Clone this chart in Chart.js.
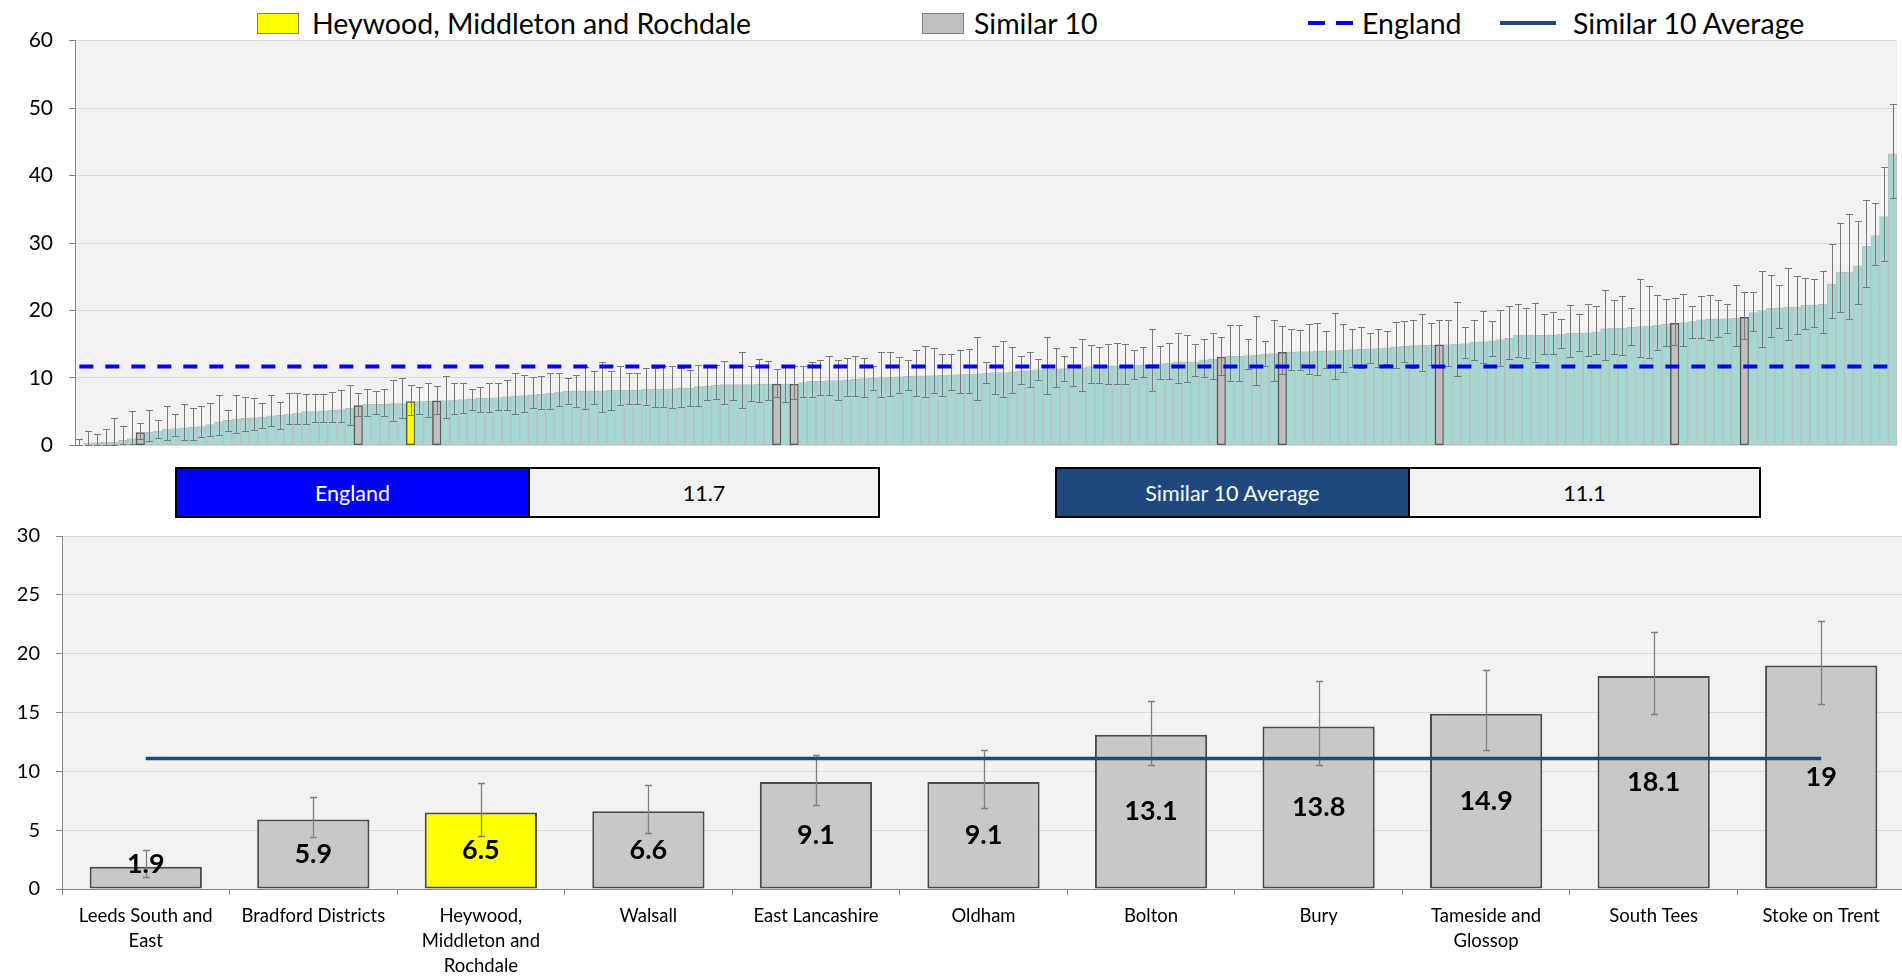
<!DOCTYPE html>
<html>
<head>
<meta charset="utf-8">
<script src="https://cdn.jsdelivr.net/npm/chart.js@4.4.1/dist/chart.umd.min.js"></script>
<style>
html,body{margin:0;padding:0;background:#fff;}
body{width:1902px;height:976px;overflow:hidden;position:relative;font-family:Lato,sans-serif;color:#000;}
canvas{position:absolute;left:0;}
#topChart{top:12px;}
#bottomChart{top:508px;}
.sw{position:absolute;top:13px;width:42px;height:21px;box-sizing:border-box;border:1.5px solid #7f7f7f;}
.ln{position:absolute;top:21px;height:4px;}
.lt{position:absolute;top:4px;line-height:38px;font-size:28.5px;white-space:nowrap;}
.box{position:absolute;top:467px;height:51px;box-sizing:border-box;border:2.5px solid #000;display:flex;}
.box div{height:100%;display:flex;align-items:center;justify-content:center;font-size:21.5px;}
.box .k{color:#fff;border-right:2.5px solid #000;box-sizing:border-box;}
.box .v{background:#f2f2f2;flex:1;}
</style>
</head>
<body>
<div class="sw" style="left:257px;background:#ffff00;"></div>
<div class="lt" style="left:312px;" id="lg1"></div>
<div class="sw" style="left:922px;background:#bfbfbf;"></div>
<div class="lt" style="left:974px;" id="lg2"></div>
<div class="ln" style="left:1308px;width:17px;background:#0000ff;"></div>
<div class="ln" style="left:1336px;width:17px;background:#0000ff;"></div>
<div class="lt" style="left:1362px;" id="lg3"></div>
<div class="ln" style="left:1500px;width:56px;background:#1f497d;"></div>
<div class="lt" style="left:1573px;" id="lg4"></div>

<canvas id="topChart" width="1902" height="462"></canvas>

<div class="box" style="left:175px;width:705px;">
  <div class="k" style="width:353px;background:#0000ff;" id="engKey"></div>
  <div class="v" id="engVal"></div>
</div>
<div class="box" style="left:1055px;width:706px;">
  <div class="k" style="width:353px;background:#1f497d;" id="simKey"></div>
  <div class="v" id="simVal"></div>
</div>

<canvas id="bottomChart" width="1906" height="468"></canvas>

<script>
// ---------------- DATA ----------------
const legendLabels = ['Heywood, Middleton and Rochdale', 'Similar 10', 'England', 'Similar 10 Average'];
const englandValue = 11.7;
const similarAvg = 11.1;

// Top chart: all CCGs, sorted ascending (rate per bar, with confidence limits)
const topValues = [
  0, 0.35, 0.4, 0.45, 0.5, 0.75, 1.0, 1.9, 1.95, 2.1,
  2.4, 2.5, 2.6, 2.7, 2.8, 3.1, 3.5, 3.7, 3.9, 4.0,
  4.1, 4.2, 4.4, 4.5, 4.6, 4.8, 5.0, 5.0, 5.1, 5.2,
  5.3, 5.5, 5.9, 6.1, 6.1, 6.1, 6.2, 6.2, 6.5, 6.5,
  6.55, 6.6, 6.65, 6.7, 6.8, 6.9, 7.0, 7.0, 7.1, 7.2,
  7.3, 7.4, 7.5, 7.6, 7.7, 7.9, 8.0, 8.1, 8.1, 8.1,
  8.1, 8.2, 8.2, 8.2, 8.2, 8.3, 8.3, 8.3, 8.4, 8.5,
  8.5, 8.7, 8.8, 8.9, 9.0, 9.0, 9.0, 9.0, 9.1, 9.1,
  9.1, 9.1, 9.1, 9.3, 9.5, 9.5, 9.6, 9.6, 9.7, 9.8,
  9.9, 9.95, 10.05, 10.1, 10.15, 10.25, 10.3, 10.3, 10.35, 10.4,
  10.45, 10.5, 10.55, 10.6, 10.7,
  10.8, 10.8, 10.9, 11.0, 11.1, 11.2, 11.3, 11.3, 11.4, 11.4,
  11.5, 11.7, 11.8, 11.8, 11.8, 11.8, 11.9, 11.9, 12.0, 12.1,
  12.2, 12.4, 12.4, 12.4, 12.7, 12.8, 13.1, 13.2, 13.2, 13.3,
  13.4, 13.5, 13.6, 13.8, 13.85, 13.9, 13.9, 13.95, 14.0, 14.05,
  14.1, 14.2, 14.25, 14.3, 14.35, 14.45, 14.6, 14.7, 14.8, 14.85,
  14.85, 14.9, 14.95, 15.0, 15.1, 15.3, 15.4, 15.5, 15.7, 15.9,
  16.3, 16.3, 16.3, 16.3, 16.4, 16.5, 16.6, 16.65, 16.7, 16.8,
  17.3, 17.4, 17.4, 17.5, 17.6, 17.7, 17.85, 17.95, 18.1, 18.2,
  18.35, 18.6, 18.7, 18.75, 18.8, 18.85, 19.0, 19.7, 20.0, 20.3,
  20.4, 20.5, 20.5, 20.8, 20.8, 20.9, 23.9, 25.7, 25.7, 26.6,
  29.5, 31.1, 33.9, 43.2
];
const topUpper = [
  1.0, 2.2, 1.7, 2.4, 4.1, 2.9, 5.1, 3.3, 5.3, 3.8,
  5.9, 4.6, 6.2, 5.6, 5.8, 6.3, 7.4, 5.3, 7.4, 7.1,
  7.0, 6.3, 7.5, 6.4, 7.8, 7.7, 7.6, 7.6, 7.6, 7.9,
  8.2, 9.0, 7.8, 8.3, 8.0, 8.3, 9.7, 10.0, 9.0, 8.6,
  9.3, 8.8, 10.3, 9.2, 9.2, 8.4, 8.6, 9.2, 9.2, 9.7,
  10.8, 10.4, 10.2, 10.3, 10.8, 10.8, 10.0, 10.5, 11.6, 11.0,
  12.4, 11.1, 11.8, 10.8, 10.7, 11.4, 11.5, 11.8, 11.7, 11.4,
  11.2, 11.9, 11.6, 11.9, 12.5, 11.8, 13.9, 11.7, 12.8, 12.5,
  11.3, 11.7, 11.8, 11.7, 12.4, 12.6, 13.2, 12.7, 12.9, 13.2,
  13.0, 11.7, 13.8, 13.8, 13.1, 12.6, 14.1, 14.7, 14.5, 13.6,
  13.5, 14.2, 14.3, 16.1, 12.4,
  14.8, 15.5, 14.6, 13.2, 13.8, 12.8, 16.1, 14.5, 13.2, 14.6,
  15.8, 14.9, 14.6, 15.1, 15.2, 15.1, 14.2, 14.6, 17.2, 14.8,
  15.2, 16.6, 16.3, 15.0, 15.8, 16.7, 16.0, 17.8, 17.8, 15.7,
  19.2, 15.5, 18.6, 17.7, 17.3, 17.1, 18.0, 18.2, 17.0, 19.6,
  18.0, 17.3, 17.6, 16.7, 17.3, 16.9, 18.3, 18.5, 18.6, 19.5,
  18.1, 18.6, 18.6, 21.2, 17.6, 18.6, 19.9, 18.4, 20.1, 20.6,
  20.9, 20.4, 21.1, 19.5, 19.8, 18.7, 20.8, 19.5, 21.0, 20.6,
  23.1, 21.6, 22.1, 20.4, 24.6, 23.7, 22.3, 21.7, 21.8, 22.4,
  20.7, 22.1, 22.3, 21.6, 21.0, 23.8, 22.8, 22.75, 25.9, 25.2,
  23.8, 26.3, 25.1, 24.8, 24.7, 25.9, 29.8, 33.0, 34.3, 33.2,
  36.4, 36.0, 41.2, 50.6
];
const topLower = [
  0.0, 0.05, 0.1, 0.1, 0.1, 0.2, 0.25, 1.0, 0.7, 1.1,
  0.75, 1.4, 0.75, 0.85, 1.2, 1.4, 1.6, 2.1, 1.8, 2.2,
  2.3, 2.6, 2.9, 2.5, 3.1, 3.2, 3.2, 3.5, 3.5, 3.5,
  3.5, 3.0, 4.4, 4.3, 4.6, 4.3, 3.6, 4.0, 4.5, 4.6,
  4.2, 4.7, 4.1, 4.7, 4.8, 5.2, 5.0, 5.0, 5.3, 5.2,
  4.6, 4.9, 5.5, 5.4, 5.4, 5.9, 6.2, 5.7, 5.4, 6.2,
  5.0, 5.3, 6.0, 6.2, 6.1, 6.0, 5.7, 5.7, 5.6, 5.7,
  5.9, 5.9, 6.7, 6.9, 6.2, 6.8, 5.5, 6.6, 6.4, 6.7,
  7.1, 6.5, 6.9, 7.2, 7.1, 7.5, 7.4, 6.7, 7.3, 7.3,
  7.2, 8.2, 7.2, 7.3, 7.8, 8.2, 7.3, 7.2, 7.8, 7.3,
  8.2, 7.7, 7.7, 6.8, 9.2,
  7.6, 7.2, 7.8, 9.1, 8.6, 9.7, 7.6, 8.7, 9.6, 8.75,
  8.0, 9.2, 9.2, 9.05, 9.05, 9.1, 9.9, 10.2, 8.1, 9.8,
  9.8, 9.2, 9.4, 10.3, 10.2, 9.8, 10.5, 9.5, 9.6, 11.3,
  9.0, 11.7, 9.6, 10.6, 11.2, 11.2, 10.6, 10.4, 11.4, 9.8,
  10.9, 11.6, 11.4, 12.2, 11.6, 12.1, 11.4, 12.4, 11.4, 11.0,
  11.9, 11.8, 11.8, 10.3, 13.0, 12.7, 12.2, 13.3, 11.8, 12.8,
  13.1, 12.9, 12.4, 13.5, 13.6, 14.4, 13.1, 14.0, 13.2, 13.6,
  12.6, 13.6, 13.4, 14.9, 13.1, 13.0, 14.1, 14.7, 14.9, 14.7,
  15.9, 15.9, 15.6, 16.1, 16.7, 14.8, 15.7, 16.9, 14.6, 16.0,
  17.4, 15.6, 16.5, 17.3, 17.5, 16.7, 18.9, 19.8, 18.8, 21.0,
  23.5, 26.7, 27.4, 36.6
];
// positions (0-based rank) of the similar-10 CCGs and of the selected CCG in the sorted list
const similarRanks = [7, 32, 41, 80, 82, 131, 138, 156, 183, 191];
const selectedRank = 38;
const topYTicks = [0, 10, 20, 30, 40, 50, 60];

// Bottom chart: selected CCG and its similar 10
const bottomCategories = [
  ['Leeds South and', 'East'], ['Bradford Districts'], ['Heywood,', 'Middleton and', 'Rochdale'],
  ['Walsall'], ['East Lancashire'], ['Oldham'], ['Bolton'], ['Bury'],
  ['Tameside and', 'Glossop'], ['South Tees'], ['Stoke on Trent']
];
const bottomValues = [1.9, 5.9, 6.5, 6.6, 9.1, 9.1, 13.1, 13.8, 14.9, 18.1, 19];
const bottomUpper = [3.3, 7.8, 9.0, 8.8, 11.35, 11.8, 16.0, 17.7, 18.6, 21.8, 22.8];
const bottomLower = [1.0, 4.4, 4.5, 4.75, 7.1, 6.9, 10.5, 10.55, 11.8, 14.9, 15.7];
const selectedCategory = 2;
const bottomYTicks = [0, 5, 10, 15, 20, 25, 30];

// ---------------- STATIC TEXT ----------------
['lg1','lg2','lg3','lg4'].forEach((id, i) => document.getElementById(id).textContent = legendLabels[i]);
document.getElementById('engKey').textContent = legendLabels[2];
document.getElementById('engVal').textContent = englandValue;
document.getElementById('simKey').textContent = legendLabels[3];
document.getElementById('simVal').textContent = similarAvg;

// ---------------- PLUGINS ----------------
const plotBg = {
  id: 'plotBg',
  beforeDraw(chart) {
    const {ctx, chartArea: a} = chart;
    ctx.save();
    ctx.fillStyle = '#f2f2f2';
    ctx.fillRect(a.left, a.top, a.right - a.left, a.bottom - a.top);
    ctx.restore();
  }
};
const errorBars = {
  id: 'errorBars',
  afterDatasetDraw(chart, args, opts) {
    const ds = chart.data.datasets[args.index];
    if (!ds.errUpper) return;
    const ctx = chart.ctx, y = chart.scales.y;
    ctx.save();
    ctx.strokeStyle = opts.color;
    ctx.lineWidth = opts.width;
    args.meta.data.forEach((el, i) => {
      const hi = ds.errUpper[i], lo = ds.errLower[i];
      if (hi == null) return;
      const x = Math.round(el.x) + 0.5;
      const yh = Math.round(y.getPixelForValue(hi)) + 0.5;
      const yl = Math.round(y.getPixelForValue(lo)) + 0.5;
      ctx.beginPath();
      ctx.moveTo(x, yh); ctx.lineTo(x, yl);
      ctx.moveTo(x - opts.cap, yh); ctx.lineTo(x + opts.cap, yh);
      ctx.moveTo(x - opts.cap, yl); ctx.lineTo(x + opts.cap, yl);
      ctx.stroke();
    });
    ctx.restore();
  }
};
const barLabels = {
  id: 'barLabels',
  afterDatasetsDraw(chart) {
    const idx = chart.data.datasets.findIndex(d => d.type === 'bar');
    const ds = chart.data.datasets[idx];
    const meta = chart.getDatasetMeta(idx);
    const ctx = chart.ctx;
    ctx.save();
    ctx.font = 'bold 27px Lato';
    ctx.fillStyle = '#000';
    ctx.textAlign = 'center';
    ctx.textBaseline = 'middle';
    meta.data.forEach((el, i) => {
      const c = (el.y + el.base) / 2;
      ctx.fillText(String(ds.data[i]), el.x, Math.min(c, el.base - 24));
    });
    ctx.restore();
  }
};

function draw() {
  Chart.defaults.font.family = 'Lato';
  Chart.defaults.color = '#000';

  // ----- top chart -----
  const topRanks = topValues.map((_, i) => i + 1);
  const topFill = topValues.map((_, i) => i === selectedRank ? '#ffff00' : (similarRanks.includes(i) ? '#bfbfbf' : '#a6d8d3'));
  const topBorder = topValues.map((_, i) => (i === selectedRank || similarRanks.includes(i)) ? '#595959' : '#bdbdbd');
  const topBorderW = topValues.map((_, i) => (i === selectedRank || similarRanks.includes(i)) ? 1.5 : 1);

  new Chart(document.getElementById('topChart'), {
    type: 'bar',
    data: {
      labels: topRanks,
      datasets: [
        { type: 'line', label: legendLabels[2], data: topRanks.map(() => englandValue),
          borderColor: '#0000ff', borderWidth: 4, borderDash: [14, 12], pointRadius: 0, fill: false, order: 0 },
        { type: 'bar', label: 'CCGs', data: topValues, errUpper: topUpper, errLower: topLower,
          backgroundColor: topFill, borderColor: topBorder, borderWidth: topBorderW, borderSkipped: false,
          categoryPercentage: 1, barPercentage: 1, order: 1 }
      ]
    },
    options: {
      responsive: false, animation: false, events: [],
      layout: { padding: { left: 0, right: 5, top: 0, bottom: 0 } },
      plugins: { legend: { display: false }, tooltip: { enabled: false },
        errorBars: { color: '#7a7a7a', width: 1, cap: 3.5 } },
      scales: {
        x: { display: false },
        y: {
          min: 0, max: 60,
          afterBuildTicks: s => { s.ticks = topYTicks.map(v => ({ value: v })); },
          afterFit: s => { s.width = 75; },
          ticks: { font: { size: 21 }, color: '#000', padding: 16 },
          grid: { color: '#d9d9d9', tickColor: '#868686', tickLength: 6 },
          border: { color: '#868686', width: 1 }
        }
      }
    },
    plugins: [plotBg, errorBars]
  });

  // ----- bottom chart -----
  new Chart(document.getElementById('bottomChart'), {
    type: 'bar',
    data: {
      labels: bottomCategories,
      datasets: [
        { type: 'line', label: legendLabels[3], data: bottomCategories.map(() => similarAvg),
          borderColor: '#1f497d', borderWidth: 3.5, pointRadius: 0, fill: false, order: 0 },
        { type: 'bar', label: legendLabels[1], data: bottomValues, errUpper: bottomUpper, errLower: bottomLower,
          backgroundColor: bottomValues.map((_, i) => i === selectedCategory ? '#ffff00' : '#c8c8c8'),
          borderColor: '#4a4a4a', borderWidth: 2, borderSkipped: false,
          categoryPercentage: 1, barPercentage: 0.67, order: 1 }
      ]
    },
    options: {
      responsive: false, animation: false, events: [],
      layout: { padding: { left: 0, right: 1, top: 0, bottom: 0 } },
      plugins: { legend: { display: false }, tooltip: { enabled: false },
        errorBars: { color: '#7f7f7f', width: 1.3, cap: 3.5 } },
      scales: {
        x: {
          afterFit: s => { s.height = 87; },
          ticks: { font: { size: 18.5, lineHeight: 1.35 }, color: '#000', padding: 8.5, maxRotation: 0, autoSkip: false },
          grid: { drawOnChartArea: false, tickColor: '#868686', tickLength: 6, offset: true },
          border: { color: '#868686', width: 1 }
        },
        y: {
          min: 0, max: 30,
          afterBuildTicks: s => { s.ticks = bottomYTicks.map(v => ({ value: v })); },
          afterFit: s => { s.width = 62; },
          ticks: { font: { size: 20 }, color: '#000', padding: 16 },
          grid: { color: '#d9d9d9', tickColor: '#868686', tickLength: 6 },
          border: { color: '#868686', width: 1 }
        }
      }
    },
    plugins: [plotBg, errorBars, barLabels]
  });
}

if (document.fonts && document.fonts.load) {
  Promise.all([document.fonts.load('21px Lato'), document.fonts.load('bold 27px Lato')])
    .then(draw, draw);
} else {
  draw();
}
</script>
</body>
</html>
